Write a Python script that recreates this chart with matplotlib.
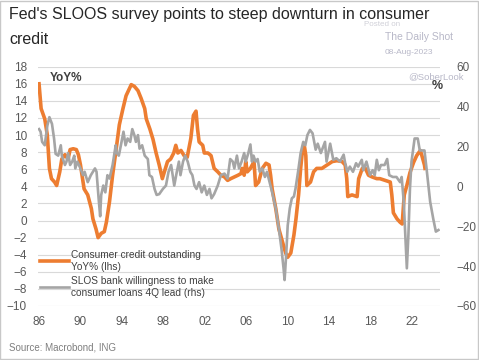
import matplotlib
matplotlib.use('Agg')
import matplotlib.pyplot as plt
from matplotlib.patches import Rectangle

plt.rcParams['font.family'] = ['Liberation Sans', 'DejaVu Sans']

# Consumer credit outstanding, YoY% (lhs)
cc_year = [1986.0, 1986.2, 1986.55, 1986.8, 1987.0, 1987.2, 1987.5, 1987.7, 1988.0, 1988.2,
           1988.5, 1988.8, 1989.0, 1989.3, 1989.6, 1989.8, 1990.0, 1990.1, 1990.35, 1990.7,
           1991.05, 1991.2, 1991.5, 1991.7, 1992.0, 1992.3, 1992.5, 1992.8, 1993.1, 1993.45,
           1993.75, 1994.1, 1994.4, 1994.9, 1995.2, 1995.55, 1995.85, 1996.2, 1996.35, 1996.7,
           1997.0, 1997.3, 1997.6, 1997.9, 1998.1, 1998.4, 1998.7, 1999.0, 1999.2, 1999.4,
           1999.7, 2000.0, 2000.3, 2000.65, 2000.9, 2001.15, 2001.3, 2001.45, 2001.8, 2001.95,
           2002.3, 2002.6, 2002.9, 2003.25, 2003.55, 2003.9, 2004.2, 2004.5, 2004.85, 2005.2,
           2005.5, 2005.6, 2005.8, 2005.95, 2006.1, 2006.4, 2006.75, 2006.9, 2007.2, 2007.55,
           2007.9, 2008.2, 2008.35, 2008.5, 2008.85, 2009.15, 2009.5, 2009.8, 2010.0, 2010.3,
           2010.6, 2010.8, 2011.05, 2011.25, 2011.4, 2011.6, 2011.75, 2011.85, 2012.2, 2012.5,
           2012.8, 2013.3, 2013.8, 2014.3, 2014.75, 2015.25, 2015.55, 2015.7, 2015.8, 2016.2,
           2016.7, 2016.85, 2017.2, 2017.5, 2017.8, 2018.15, 2018.6, 2018.9, 2019.4, 2019.9,
           2020.05, 2020.2, 2020.55, 2020.85, 2021.05, 2021.25, 2021.5, 2021.8, 2022.15, 2022.45,
           2022.8, 2022.95, 2023.2, 2023.25]
cc_yoy = [16.0, 13.1, 11.9, 10.0, 6.1, 4.9, 4.5, 4.1, 5.7, 7.2,
          7.7, 7.2, 8.3, 8.4, 8.3, 7.7, 6.5, 5.7, 3.7, 3.0,
          1.4, 0.2, -1.0, -2.0, -1.5, -1.3, -0.2, 2.2, 5.3, 8.4,
          11.2, 13.1, 14.6, 15.9, 15.7, 15.2, 14.3, 13.1, 11.9, 10.7,
          9.5, 7.9, 6.5, 4.9, 5.7, 6.9, 7.2, 7.9, 8.8, 7.9,
          8.2, 7.6, 7.4, 9.6, 12.3, 12.8, 10.7, 9.2, 8.8, 7.9,
          7.9, 7.6, 6.1, 5.7, 5.3, 5.1, 4.7, 4.9, 5.1, 5.3,
          5.5, 6.1, 5.3, 6.9, 5.7, 6.1, 6.9, 4.1, 4.5, 6.1,
          6.7, 6.5, 5.3, 3.7, 1.4, -1.0, -2.5, -3.8, -4.3, -3.8,
          -1.7, 0.2, 3.0, 6.1, 7.9, 8.8, 7.6, 4.1, 4.5, 5.7,
          6.1, 6.1, 6.5, 6.9, 7.0, 6.9, 6.5, 4.9, 2.8, 3.0,
          2.8, 4.9, 6.1, 6.1, 5.3, 5.1, 4.9, 4.9, 4.7, 4.5,
          3.0, 0.9, 0.2, -0.2, -0.4, 3.0, 4.1, 5.6, 6.8, 7.6,
          8.2, 7.6, 6.5, 6.1]

# SLOOS: bank willingness to make consumer loans, 4Q lead (rhs)
slos_year = [1986.0, 1986.15, 1986.3, 1986.55, 1986.8, 1987.0, 1987.25, 1987.45, 1987.6, 1987.85,
             1988.1, 1988.2, 1988.5, 1988.65, 1988.8, 1989.0, 1989.2, 1989.4, 1989.5, 1989.7,
             1990.0, 1990.25, 1990.4, 1990.7, 1991.0, 1991.4, 1991.55, 1991.75, 1991.9, 1992.0,
             1992.2, 1992.4, 1992.6, 1992.8, 1993.1, 1993.4, 1993.5, 1993.7, 1993.9, 1994.15,
             1994.35, 1994.55, 1994.8, 1995.0, 1995.2, 1995.35, 1995.55, 1995.7, 1995.95, 1996.2,
             1996.5, 1996.65, 1996.9, 1997.15, 1997.35, 1997.6, 1997.95, 1998.25, 1998.5, 1998.75,
             1999.05, 1999.3, 1999.5, 1999.65, 1999.9, 2000.1, 2000.35, 2000.6, 2000.8, 2001.0,
             2001.2, 2001.45, 2001.7, 2001.95, 2002.2, 2002.45, 2002.65, 2002.9, 2003.25, 2003.55,
             2003.9, 2004.2, 2004.45, 2004.7, 2004.85, 2005.1, 2005.3, 2005.55, 2005.8, 2005.95,
             2006.2, 2006.4, 2006.55, 2006.7, 2006.9, 2007.1, 2007.3, 2007.55, 2007.8, 2008.0,
             2008.25, 2008.5, 2008.85, 2009.15, 2009.4, 2009.6, 2009.7, 2009.85, 2010.0, 2010.2,
             2010.4, 2010.6, 2010.75, 2011.0, 2011.25, 2011.5, 2011.7, 2011.9, 2012.15, 2012.4,
             2012.7, 2012.9, 2013.2, 2013.6, 2013.75, 2014.1, 2014.4, 2014.7, 2015.05, 2015.4,
             2015.55, 2015.75, 2016.0, 2016.3, 2016.6, 2016.8, 2017.15, 2017.3, 2017.6, 2017.95,
             2018.2, 2018.4, 2018.6, 2018.8, 2019.0, 2019.35, 2019.6, 2019.8, 2020.15, 2020.5,
             2020.85, 2021.0, 2021.2, 2021.35, 2021.5, 2021.65, 2021.8, 2021.95, 2022.25, 2022.55,
             2022.75, 2023.2, 2023.4, 2023.75, 2024.05, 2024.3, 2024.55]
slos_val = [28.7, 27.4, 22.3, 20.6, 30.4, 34.7, 31.3, 24.0, 16.3, 15.4,
            20.6, 15.4, 10.7, 12.4, 16.7, 10.7, 12.4, 15.4, 9.0, 12.4,
            9.0, 5.6, 7.3, 2.1, 5.6, 9.0, 7.3, -6.0, -15.0, -4.3,
            0.4, -3.0, 5.6, 3.9, 10.7, 20.6, 16.7, 15.4, 20.6, 27.4,
            20.6, 24.0, 22.3, 28.7, 25.7, 22.3, 25.7, 18.9, 20.6, 15.4,
            13.7, 5.6, 4.7, -1.3, -4.3, -3.9, -1.3, 0.4, 7.3, 10.7,
            0.4, 7.3, 12.4, 5.6, 12.4, 15.4, 12.4, 7.3, 5.6, 0.4,
            -1.3, 2.1, -3.0, 0.4, -4.3, -1.3, -6.0, -3.9, 0.4, 5.6,
            6.4, 3.9, 13.7, 12.4, 9.0, 15.4, 9.0, 12.4, 16.7, 12.4,
            16.7, 21.0, 12.4, 15.4, 12.4, 13.7, 7.3, 9.0, 4.7, 7.3,
            2.1, -3.0, -11.1, -21.4, -31.3, -41.1, -47.0, -34.7, -19.7, -11.1,
            -6.0, -5.1, -1.3, 7.3, 16.7, 22.3, 20.6, 25.7, 28.3, 26.6,
            18.4, 21.4, 16.7, 22.3, 12.4, 21.4, 13.3, 14.1, 12.4, 15.9,
            11.6, 7.3, 9.9, 7.3, 11.6, 9.9, 13.3, 8.1, 12.4, 5.6,
            8.1, 5.6, 13.3, 8.1, 10.7, 10.7, 13.7, 5.6, 4.7, 4.7,
            2.1, 4.7, -7.7, -24.4, -41.1, -24.4, -1.3, 12.4, 24.0, 24.0,
            18.0, 18.0, 9.0, -7.7, -16.3, -22.7, -21.9]

year_ticks = [1986, 1990, 1994, 1998, 2002, 2006, 2010, 2014, 2018, 2022]
year_labels = ['86', '90', '94', '98', '02', '06', '10', '14', '18', '22']
left_ticks = list(range(-10, 19, 2))
right_ticks = list(range(-60, 61, 20))

orange = '#ED7D31'
grey = '#A5A5A5'
tick_col = '#595959'

fig = plt.figure(figsize=(4.79, 3.6), dpi=100)
ax = fig.add_axes([38 / 479, 1 - 306 / 360, 402 / 479, (306 - 66.7) / 360])
ax2 = ax.twinx()

l1, = ax.plot(cc_year, cc_yoy, color=orange, lw=2.6, solid_joinstyle='round')
l2, = ax2.plot(slos_year, slos_val, color=grey, lw=1.9, solid_joinstyle='round')

ax.set_xlim(1985.9, 2024.7)
ax.set_ylim(-10, 18)
ax2.set_ylim(-60, 60)
ax.set_yticks(left_ticks)
ax2.set_yticks(right_ticks)
ax.set_xticks(year_ticks)
ax.set_xticklabels(year_labels)

ax.grid(axis='y', color='#D9D9D9', lw=0.8)
ax.set_axisbelow(True)
for a in (ax, ax2):
    for s in a.spines.values():
        s.set_visible(False)
ax.tick_params(axis='both', length=0, labelsize=8.5, labelcolor=tick_col)
ax.tick_params(axis='y', pad=8)
ax.tick_params(axis='x', pad=7)
ax2.tick_params(axis='y', length=0, labelsize=8.5, labelcolor=tick_col, pad=12)

fig.text(50 / 479, 1 - 78 / 360, 'YoY%', fontsize=8.5, fontweight='bold', color='#404040',
         va='center', ha='left')
fig.text(437 / 479, 1 - 86 / 360, '%', fontsize=9, fontweight='bold', color='#404040',
         ha='center', va='center')

leg = ax2.legend([l1, l2],
                 ['Consumer credit outstanding\nYoY% (lhs)',
                  'SLOS bank willingness to make\nconsumer loans 4Q lead (rhs)'],
                 loc='upper left', bbox_to_anchor=(40 / 479, 1 - 250 / 360),
                 bbox_transform=fig.transFigure, frameon=False, fontsize=7.3,
                 handlelength=2.9, handletextpad=0.15, labelspacing=0.45,
                 borderaxespad=0, borderpad=0)
for t in leg.get_texts():
    t.set_color('#404040')

fig.text(9 / 479, 1 - 15 / 360, "Fed's SLOOS survey points to steep downturn in consumer",
         fontsize=11.5, color='#262626', va='center', ha='left')
fig.text(9 / 479, 1 - 39 / 360, 'credit', fontsize=11.5, color='#262626',
         va='center', ha='left')

wm = '#B8B8C8'
fig.text(364 / 479, 1 - 25 / 360, 'Posted on', fontsize=5.8, color='#D0D0D8', va='center')
fig.text(385 / 479, 1 - 37 / 360, 'The Daily Shot', fontsize=7.5, color=wm, va='center')
fig.text(385 / 479, 1 - 52 / 360, '08-Aug-2023', fontsize=6, color=wm, va='center')
fig.text(408 / 479, 1 - 77 / 360, '@SoberLook', fontsize=6.8, color=wm, va='center')

fig.text(9 / 479, 1 - 347 / 360, 'Source: Macrobond, ING', fontsize=7, color='#7F7F7F',
         va='center', ha='left')

fig.patches.append(Rectangle((0.001, 0.002), 0.997, 0.995, transform=fig.transFigure,
                             fill=False, edgecolor='#C8C8C8', lw=1))

fig.savefig('out.png', dpi=100)
